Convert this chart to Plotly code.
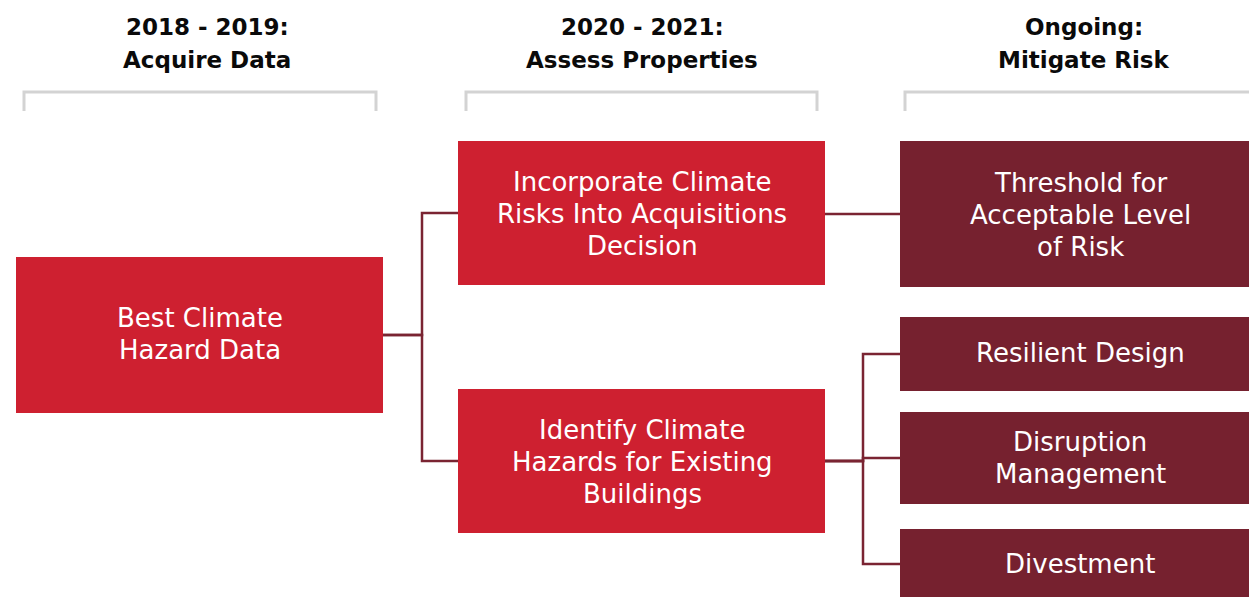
import plotly.graph_objects as go

# ---- content ----
stage_titles = ["2018 - 2019:<br>Acquire Data",
                "2020 - 2021:<br>Assess Properties",
                "Ongoing:<br>Mitigate Risk"]
node_labels = ["Best Climate<br>Hazard Data",
               "Incorporate Climate<br>Risks Into Acquisitions<br>Decision",
               "Identify Climate<br>Hazards for Existing<br>Buildings",
               "Threshold for<br>Acceptable Level<br>of Risk",
               "Resilient Design",
               "Disruption<br>Management",
               "Divestment"]
node_stage = [0, 1, 1, 2, 2, 2, 2]
edges = [(0, 1), (0, 2), (1, 3), (2, 4), (2, 5), (2, 6)]

# ---- layout geometry (page pixels) ----
W, H = 1249, 597
bracket_x = [(24, 376), (466, 817), (905, 1262)]
bracket_y = (92, 111)
title_x = [207, 642, 1084]
title_y = 43.5
title_lh = 33
box_x = {0: (16, 383), 1: (458, 825), 2: (900, 1262)}
box_y = [(257, 413), (141, 285), (389, 533), (141, 287), (317, 391), (412, 504), (529, 605)]
text_cx = {0: 200, 1: 642, 2: 1080}
text_cy = [334, 214, 462, 215, 353, 458, 564]
text_lh = 32

stage_colors = ["#CE2030", "#CE2030", "#76212F"]
line_color = "#7A2432"
bracket_color = "#D3D3D3"

fig = go.Figure()
shapes = []
annotations = []


def add_lines(text, cx, cy, lh, font):
    lines = text.split("<br>")
    n = len(lines)
    for k, ln in enumerate(lines):
        y = cy + (k - (n - 1) / 2) * lh
        annotations.append(dict(x=cx, y=y, text=ln, showarrow=False, xref="x", yref="y",
                                xanchor="center", yanchor="middle", align="center", font=font))


# brackets
for (x0, x1) in bracket_x:
    shapes.append(dict(type="path",
                       path=f"M {x0},{bracket_y[1]} L {x0},{bracket_y[0]} L {x1},{bracket_y[0]} L {x1},{bracket_y[1]}",
                       line=dict(color=bracket_color, width=3), xref="x", yref="y", layer="below"))

# stage titles
for t, x in zip(stage_titles, title_x):
    add_lines(t, x, title_y, title_lh,
              dict(family="DejaVu Sans", size=23, color="#0A0A0A", weight="bold"))

# connectors
trunk_x = {0: 422, 1: 863}
for s, t in edges:
    ss, ts = node_stage[s], node_stage[t]
    sx = box_x[ss][1]
    sy = (box_y[s][0] + box_y[s][1]) / 2
    tx = box_x[ts][0]
    ty = text_cy[t] if t == 6 else (box_y[t][0] + box_y[t][1]) / 2
    tr = trunk_x[ss]
    if abs(sy - ty) < 3:
        path = f"M {sx},{ty} L {tx},{ty}"
    else:
        path = f"M {sx},{sy} L {tr},{sy} L {tr},{ty} L {tx},{ty}"
    shapes.append(dict(type="path", path=path, line=dict(color=line_color, width=2.5),
                       xref="x", yref="y", layer="below"))

# boxes
for i, lab in enumerate(node_labels):
    st = node_stage[i]
    x0, x1 = box_x[st]
    y0, y1 = box_y[i]
    shapes.append(dict(type="rect", x0=x0, x1=x1, y0=y0, y1=y1, xref="x", yref="y",
                       fillcolor=stage_colors[st], line=dict(width=0), layer="above"))
    add_lines(lab, text_cx[st], text_cy[i], text_lh,
              dict(family="DejaVu Sans", size=26, color="white"))

fig.update_layout(
    width=W, height=H,
    margin=dict(l=0, r=0, t=0, b=0),
    paper_bgcolor="white", plot_bgcolor="white",
    xaxis=dict(range=[0, W], visible=False, fixedrange=True),
    yaxis=dict(range=[H, 0], visible=False, fixedrange=True),
    shapes=shapes, annotations=annotations, showlegend=False,
)
fig.write_html("out.html",
               config={"displayModeBar": False, "staticPlot": True},
               post_script="document.body.style.margin='0';document.body.style.overflow='hidden';")
